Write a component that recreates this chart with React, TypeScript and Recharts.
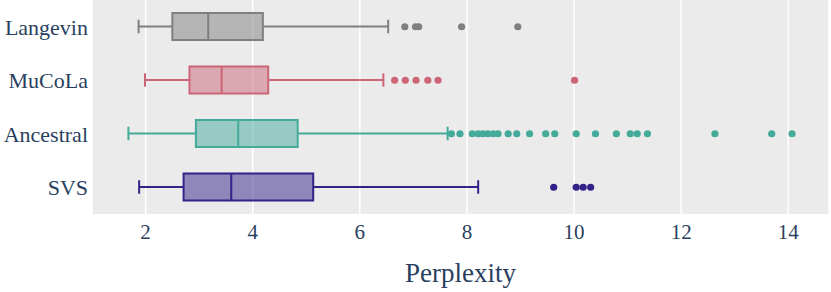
import { ComposedChart, Bar, Scatter, XAxis, YAxis, CartesianGrid } from 'recharts';

const categories = ['Langevin', 'MuCoLa', 'Ancestral', 'SVS'];
const colors = ['#7f7f7f', '#cc6677', '#44aa99', '#332288'];

// box statistics per method (perplexity)
const lowerFence = [1.87, 1.99, 1.68, 1.88];
const q1 = [2.5, 2.82, 2.94, 2.71];
const median = [3.17, 3.42, 3.73, 3.6];
const q3 = [4.19, 4.29, 4.84, 5.13];
const upperFence = [6.53, 6.44, 7.64, 8.21];

const langevinOutliers = [6.84, 7.04, 7.1, 7.9, 8.95];
const mucolaOutliers = [6.65, 6.85, 7.05, 7.27, 7.46, 10.01];
const ancestralOutliers = [
  7.71, 7.87, 8.1, 8.21, 8.3, 8.39, 8.49, 8.58, 8.77, 8.93, 9.17, 9.47, 9.64, 10.04, 10.4,
  10.79, 11.05, 11.18, 11.37, 12.63, 13.69, 14.07,
];
const svsOutliers = [9.62, 10.04, 10.17, 10.31];
const outlierLists = [langevinOutliers, mucolaOutliers, ancestralOutliers, svsOutliers];

const xTicks = [2, 4, 6, 8, 10, 12, 14];

const FONT = '"Liberation Serif", "Times New Roman", Times, serif';
const TEXT = '#2a3f5f';

const boxData = categories.map((name, i) => ({
  name,
  range: [lowerFence[i], upperFence[i]],
  q1: q1[i],
  median: median[i],
  q3: q3[i],
  color: colors[i],
}));

// numeric row position for the outlier scatter (vertical layout runs top -> bottom)
const outlierData = outlierLists.map((list, i) => list.map((v) => ({ v, pos: i + 0.5 })));

// whiskers + box + median, positioned inside the range bar the scale gave us
const BoxShape = (props: any) => {
  const { x, y, width, height, payload } = props;
  const [lo, hi] = payload.range;
  const px = (v: number) => x + (width * (v - lo)) / (hi - lo);
  const cy = y + height / 2;
  const cap = height / 4;
  const c = payload.color;
  return (
    <g>
      <line x1={px(lo)} x2={px(payload.q1)} y1={cy} y2={cy} stroke={c} strokeWidth={2} />
      <line x1={px(payload.q3)} x2={px(hi)} y1={cy} y2={cy} stroke={c} strokeWidth={2} />
      <line x1={px(lo)} x2={px(lo)} y1={cy - cap} y2={cy + cap} stroke={c} strokeWidth={2} />
      <line x1={px(hi)} x2={px(hi)} y1={cy - cap} y2={cy + cap} stroke={c} strokeWidth={2} />
      <rect
        x={px(payload.q1)}
        y={y}
        width={px(payload.q3) - px(payload.q1)}
        height={height}
        fill={c}
        fillOpacity={0.5}
        stroke={c}
        strokeWidth={2}
      />
      <line
        x1={px(payload.median)}
        x2={px(payload.median)}
        y1={y}
        y2={y + height}
        stroke={c}
        strokeWidth={2}
      />
    </g>
  );
};

export default function App() {
  return (
    <div style={{ position: 'absolute', left: 0, top: 0, fontFamily: FONT }}>
      <ComposedChart
        width={831}
        height={292}
        layout="vertical"
        data={boxData}
        margin={{ top: 0, right: 2, bottom: 0, left: 0 }}
        style={{ fontFamily: FONT }}
      >
        <CartesianGrid fill="#ebebeb" stroke="#ffffff" strokeWidth={1.5} horizontal={false} />
        <XAxis
          type="number"
          domain={[1.0, 14.76]}
          ticks={xTicks}
          axisLine={false}
          tickLine={false}
          tickSize={0}
          tickMargin={10}
          height={78}
          tick={{ fill: TEXT, fontSize: 21, fontFamily: FONT }}
          label={{
            value: 'Perplexity',
            position: 'insideBottom',
            offset: 10,
            fill: TEXT,
            fontSize: 27,
            fontFamily: FONT,
          }}
        />
        <YAxis
          type="category"
          dataKey="name"
          width={92}
          axisLine={false}
          tickLine={false}
          tickSize={0}
          tickMargin={4}
          tick={{ fill: TEXT, fontSize: 22, fontFamily: FONT }}
        />
        <YAxis yAxisId="pos" type="number" dataKey="pos" domain={[0, 4]} hide />
        <Bar dataKey="range" barSize={27} shape={BoxShape} isAnimationActive={false} />
        {outlierData.map((pts, i) => (
          <Scatter
            key={categories[i]}
            data={pts}
            dataKey="v"
            yAxisId="pos"
            fill={colors[i]}
            isAnimationActive={false}
            shape={(p: any) => <circle cx={p.cx} cy={p.cy} r={3.6} fill={colors[i]} />}
          />
        ))}
      </ComposedChart>
    </div>
  );
}
